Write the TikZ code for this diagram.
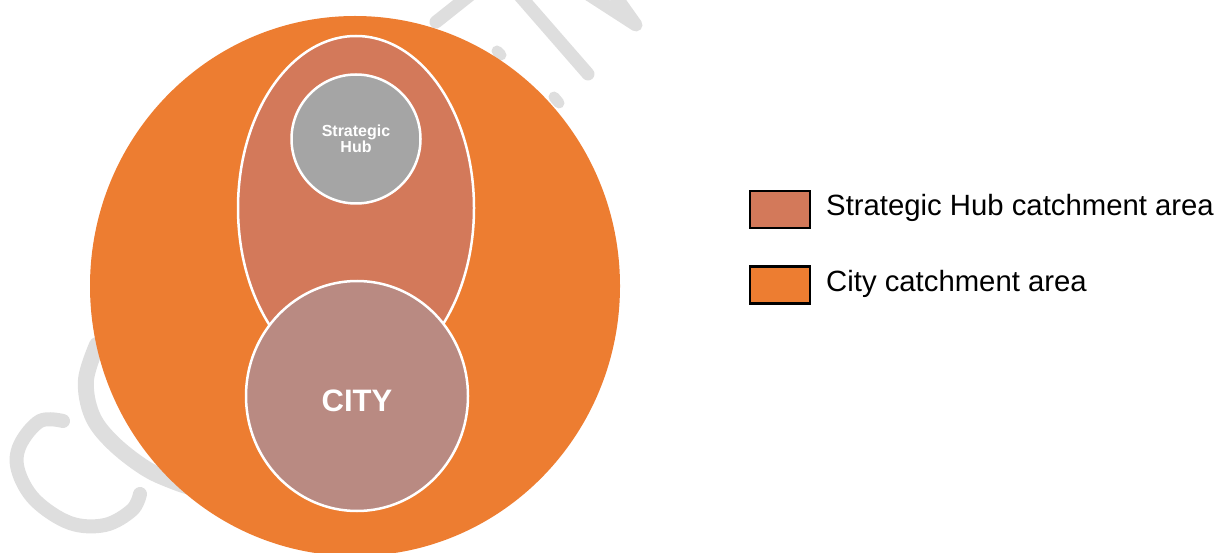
\documentclass[tikz,border=0pt]{standalone}
\usepackage{fontspec}
\setmainfont{Liberation Sans}
\usetikzlibrary{shapes.geometric}
\definecolor{cityarea}{HTML}{ED7D31}
\definecolor{hubarea}{HTML}{D3795A}
\definecolor{citycol}{HTML}{B98A82}
\definecolor{hubgray}{HTML}{A5A5A5}
\definecolor{wmgray}{HTML}{DEDEDE}
\begin{document}
\begin{tikzpicture}[x=1pt,y=-1pt,
  area/.style={ellipse, inner sep=0pt, draw=white, line width=2.5pt},
  wm/.style={draw=wmgray, line width=14pt, line cap=round, line join=round},
  legbox/.style={draw=black, line width=2.5pt, minimum width=60pt, minimum height=37pt, inner sep=0pt},
  legtext/.style={anchor=base west, font=\fontsize{29.3}{34}\selectfont, inner sep=0pt}]
\useasboundingbox (0,0) rectangle (1217,553);
% watermark (behind everything)
\draw[wm] plot[smooth, tension=0.6] coordinates {(63,421) (40,421) (20,445) (18,470) (35,500) (70,523) (105,525) (132,510) (140,494)};
\draw[wm, line width=16pt] plot[smooth, tension=0.6] coordinates {(97,345) (86,380) (92,415) (112,442) (145,468) (175,482) (200,490)};
\draw[wm, line width=13pt] (470,-5) -- (436,22);
\draw[wm, line width=11pt] (497,51) -- (501,55);
\draw[wm, line width=13pt] (520,-4) -- (588,74);
\draw[wm, line width=11pt] (554,97) -- (559,103);
\draw[wm, line width=13pt] (588,-6) -- (636,25) -- (614,-6);
% diagram
\node[ellipse, fill=cityarea, inner sep=0pt, minimum width=530pt, minimum height=540pt] (outer) at (355,286) {};
\node[area, fill=hubarea, minimum width=236pt, minimum height=344pt] (hubarea) at (356,208) {};
\node[area, fill=citycol, minimum width=222pt, minimum height=230pt] (city) at (357,396) {};
\node[text=white, font=\bfseries\fontsize{31}{36}\selectfont, inner sep=0pt] (citytext) at (357,400.5) {CITY};
\node[area, circle, fill=hubgray, minimum size=129pt, text=white, align=center, font=\bfseries\fontsize{16}{16.5}\selectfont] (hub) at (356,139) {Strategic\\Hub};
% legend
\node[legbox, fill=hubarea] (leg1) at (780,209.5) {};
\node[legtext] (leg1t) at (826,216) {Strategic Hub catchment area};
\node[legbox, fill=cityarea] (leg2) at (780,285) {};
\node[legtext] (leg2t) at (826,291) {City catchment area};
\end{tikzpicture}
\end{document}
